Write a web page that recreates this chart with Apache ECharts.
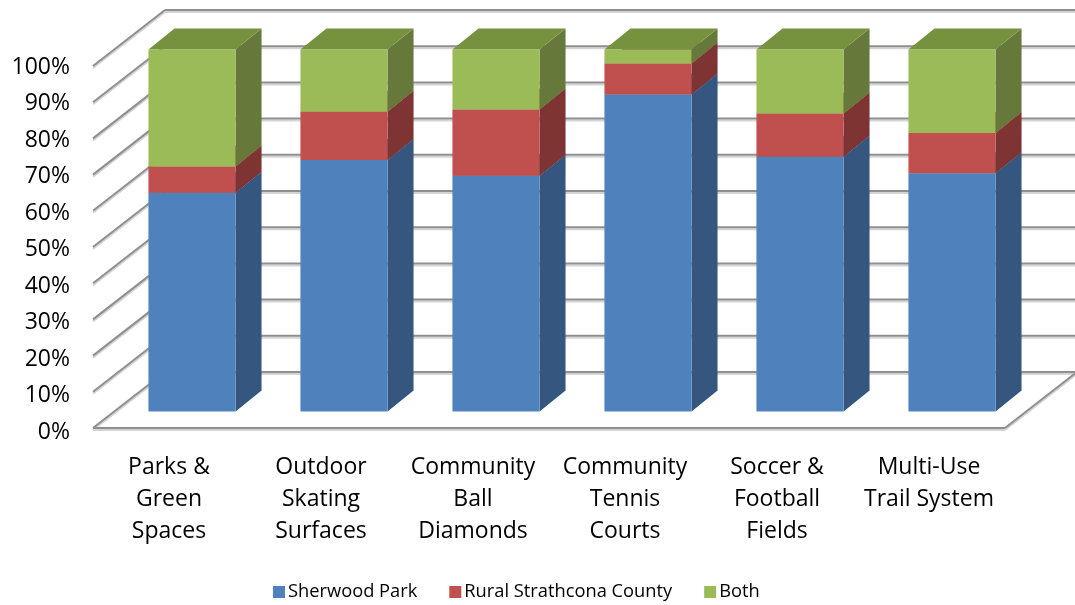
<!DOCTYPE html>
<html>
<head>
<meta charset="utf-8">
<script src="https://cdn.jsdelivr.net/npm/echarts@6/dist/echarts.min.js"></script>
<style>
  html, body { margin: 0; padding: 0; background: #fff; }
  #chart { width: 1075px; height: 605px; }
</style>
</head>
<body>
<div id="chart"></div>
<script>
// Facility categories (line breaks as shown under the bars)
const categories = [
  'Parks &\nGreen\nSpaces',
  'Outdoor\nSkating\nSurfaces',
  'Community\nBall\nDiamonds',
  'Community\nTennis\nCourts',
  'Soccer &\nFootball\nFields',
  'Multi-Use\nTrail System'
];
// Share of respondents (%) by location
const sherwoodPark = [60.4, 69.5, 65.1, 87.6, 70.4, 65.8];
const ruralStrathcona = [7.3, 13.3, 18.3, 8.5, 11.9, 11.1];
const both = [32.3, 17.2, 16.6, 3.9, 17.7, 23.1];
const seriesNames = ['Sherwood Park', 'Rural Strathcona County', 'Both'];
// Value-axis ticks
const yTicks = [0, 10, 20, 30, 40, 50, 60, 70, 80, 90, 100];

// Pseudo-3D geometry (pixels): depth of the floor, bar plane offset, bar depth
const DEPTH = [72, -56];
const BAR_FRONT = [23, -16.5];
const BAR_DEPTH = [26, -21];
const BAR_RATIO = 0.573;

const palette = [
  { front: '#4f81bd', side: '#34567f', top: '#3f6799' },
  { front: '#c0504d', side: '#7d3432', top: '#9a3f3c' },
  { front: '#9bbb59', side: '#66793a', top: '#77923f' }
];

const font = '"Open Sans", "Liberation Sans", sans-serif';

// Stack the three series into [category, base, top] records
const stacks = [sherwoodPark, ruralStrathcona, both];
const stackData = stacks.map((vals, s) => vals.map((v, i) => {
  let base = 0;
  for (let k = 0; k < s; k++) base += stacks[k][i];
  return [i, base, base + v];
}));

function gridLine(x1, y1, x2, y2) {
  return [
    { type: 'line', shape: { x1: x1, y1: y1 + 2, x2: x2, y2: y2 + 2 },
      style: { stroke: '#d4d4d4', lineWidth: 2 } },
    { type: 'line', shape: { x1: x1, y1: y1, x2: x2, y2: y2 },
      style: { stroke: '#8f8f8f', lineWidth: 2 } }
  ];
}

// Walls and floor: side-wall diagonals, back-wall gridlines, floor outline
function renderWalls(params, api) {
  const cs = params.coordSys;
  const y = api.coord([0, api.value(1)])[1];
  const xl = cs.x, xr = cs.x + cs.width;
  const [dx, dy] = DEPTH;
  let children = [];
  children = children.concat(gridLine(xl, y, xl + dx, y + dy));
  children = children.concat(gridLine(xl + dx, y + dy, xr + dx, y + dy));
  if (api.value(1) === 0) {
    children = children.concat(gridLine(xl, y, xr, y));
    children = children.concat(gridLine(xr, y, xr + dx, y + dy));
  }
  return { type: 'group', children: children };
}

function makeBarRenderer(colors) {
  return function (params, api) {
    const ci = api.value(0);
    const pLo = api.coord([ci, api.value(1)]);
    const pHi = api.coord([ci, api.value(2)]);
    const w = api.size([1, 0])[0] * BAR_RATIO;
    const cx = pLo[0] + BAR_FRONT[0];
    const x0 = cx - w / 2, x1 = cx + w / 2;
    const yb = pLo[1] + BAR_FRONT[1];
    const yt = pHi[1] + BAR_FRONT[1];
    const [bx, by] = BAR_DEPTH;
    return {
      type: 'group',
      children: [
        { type: 'polygon',
          shape: { points: [[x1, yb], [x1 + bx, yb + by], [x1 + bx, yt + by], [x1, yt]] },
          style: { fill: colors.side } },
        { type: 'polygon',
          shape: { points: [[x0, yt], [x0 + bx, yt + by], [x1 + bx, yt + by], [x1, yt]] },
          style: { fill: colors.top } },
        { type: 'rect',
          shape: { x: x0, y: yt, width: w, height: yb - yt },
          style: { fill: colors.front } }
      ]
    };
  };
}

const chart = echarts.init(document.getElementById('chart'), null, { renderer: 'canvas' });

const series = [{
  type: 'custom',
  name: '_walls',
  silent: true,
  renderItem: renderWalls,
  data: yTicks.map(t => [0, t]),
  encode: { x: 0, y: 1 },
  z: 1
}];
seriesNames.forEach((name, s) => {
  series.push({
    type: 'custom',
    name: name,
    renderItem: makeBarRenderer(palette[s]),
    itemStyle: { color: palette[s].front },
    data: stackData[s],
    encode: { x: 0, y: [1, 2] },
    z: 2
  });
});

const valueAxisBase = {
  type: 'value',
  min: 0,
  max: 100,
  interval: 10,
  axisLine: { show: false },
  axisTick: { show: false },
  splitLine: { show: false }
};

chart.setOption({
  animation: false,
  backgroundColor: '#ffffff',
  grid: [
    // front plane of the chart box (floor edge and wall fronts)
    { left: 93, right: 70, top: 66, bottom: 177, containLabel: false },
    // label plane for the value axis, slightly below the front edge
    { left: 93, right: 70, top: 67, bottom: 173, containLabel: false }
  ],
  xAxis: [{
    type: 'category',
    gridIndex: 0,
    data: categories,
    axisLine: { show: false },
    axisTick: { show: false },
    splitLine: { show: false },
    axisLabel: {
      interval: 0,
      margin: 23,
      color: '#000',
      fontFamily: font,
      fontSize: 23,
      lineHeight: 32
    }
  }, {
    type: 'category',
    gridIndex: 1,
    data: categories,
    show: false
  }],
  yAxis: [
    Object.assign({}, valueAxisBase, { gridIndex: 0, axisLabel: { show: false } }),
    Object.assign({}, valueAxisBase, {
      gridIndex: 1,
      axisLabel: {
        formatter: '{value}%',
        margin: 23,
        color: '#000',
        fontFamily: font,
        fontSize: 23
      }
    })
  ],
  legend: {
    data: seriesNames,
    left: 268,
    top: 578,
    icon: 'rect',
    itemWidth: 12,
    itemHeight: 12,
    itemGap: 32,
    textStyle: { color: '#000', fontFamily: font, fontSize: 18.3, padding: [0, 0, 0, -2] }
  },
  series: series
});
</script>
</body>
</html>
